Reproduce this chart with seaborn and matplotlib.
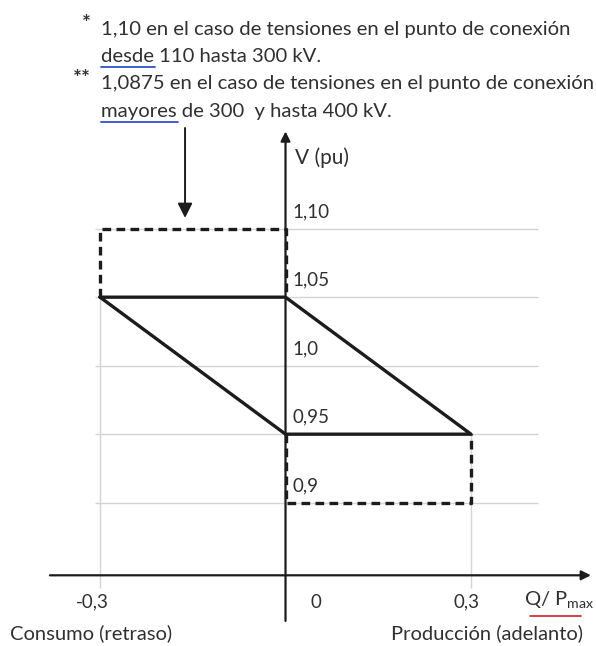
import numpy as np
import pandas as pd
import matplotlib
matplotlib.use("Agg")
import matplotlib.pyplot as plt
import seaborn as sns

sns.set_style("white")
plt.rcParams["font.family"] = ["Lato", "DejaVu Sans"]

# datos
banda_q = [-0.3, 0.0, 0.3, 0.0, -0.3]
banda_v = [1.05, 1.05, 0.95, 0.95, 1.05]
sup_q = [-0.3, -0.3, 0.0, 0.0]
sup_v = [1.05, 1.10, 1.10, 1.05]
inf_q = [0.0, 0.0, 0.3, 0.3]
inf_v = [0.95, 0.90, 0.90, 0.95]
niveles_v = [1.10, 1.05, 1.0, 0.95, 0.90]
etiquetas_v = ["1,10", "1,05", "1,0", "0,95", "0,9"]
ticks_q = [-0.3, 0.0, 0.3]
etiquetas_q = ["-0,3", "0", "0,3"]

notas = [
    ("*", "1,10 en el caso de tensiones en el punto de conexión"),
    ("", "desde 110 hasta 300 kV."),
    ("**", "1,0875 en el caso de tensiones en el punto de conexión"),
    ("", "mayores de 300  y hasta 400 kV."),
]

W, H = 596, 646
fig = plt.figure(figsize=(W / 100, H / 100), dpi=100)
ax = fig.add_axes([0, 0, 1, 1])
ax.set_xlim(-0.4618, 0.5022)
ax.set_ylim(0.7954, 1.2669)
ax.axis("off")

negro = "#1c1c1c"
texto = "#303030"
gris = "#d4d4d4"

# rejilla
ax.hlines(niveles_v, -0.308, 0.408, color=gris, lw=1, zorder=0)
ax.vlines(-0.3, 0.838, 1.05, color=gris, lw=1, zorder=0)
ax.vlines(0.3, 0.838, 0.95, color=gris, lw=1, zorder=0)

# ejes con flechas
ax.annotate("", xy=(0.494, 0.847), xytext=(-0.381, 0.847),
            arrowprops=dict(arrowstyle="-|>", color=negro, lw=1.6,
                            mutation_scale=14, shrinkA=0, shrinkB=0))
ax.annotate("", xy=(0.0, 1.171), xytext=(0.0, 0.8137),
            arrowprops=dict(arrowstyle="-|>", color=negro, lw=1.6,
                            mutation_scale=14, shrinkA=0, shrinkB=0))
ax.annotate("", xy=(-0.1625, 1.1078), xytext=(-0.1625, 1.1735),
            arrowprops=dict(arrowstyle="-|>", color=negro, lw=1.4,
                            mutation_scale=22, shrinkA=0, shrinkB=0))

# banda de operacion
df_banda = pd.DataFrame({"Q": banda_q, "V": banda_v})
sns.lineplot(data=df_banda, x="Q", y="V", sort=False, estimator=None,
             color=negro, lw=2.4, ax=ax, zorder=3)
df_sup = pd.DataFrame({"Q": sup_q, "V": sup_v})
sns.lineplot(data=df_sup, x="Q", y="V", sort=False, estimator=None,
             color=negro, lw=2.4, linestyle=(0, (2.6, 1.6)), ax=ax, zorder=3)
df_inf = pd.DataFrame({"Q": inf_q, "V": inf_v})
sns.lineplot(data=df_inf, x="Q", y="V", sort=False, estimator=None,
             color=negro, lw=2.4, linestyle=(0, (2.6, 1.6)), ax=ax, zorder=3)
ax.set_xlim(-0.4618, 0.5022)
ax.set_ylim(0.7954, 1.2669)

# etiquetas del eje V
ax.text(0.016, 1.152, "V (pu)", fontsize=15, color=texto, va="center")
for v, lab in zip(niveles_v, etiquetas_v):
    ax.text(0.011, v + 0.0125, lab, fontsize=13.5, color=texto, va="center")

# etiquetas del eje Q
desfase = [-0.013, 0.05, -0.008]
for q, lab, d in zip(ticks_q, etiquetas_q, desfase):
    ax.text(q + d, 0.8274, lab, fontsize=13.5, color=texto, ha="center", va="center")
ax.text(0.385, 0.8295, r"Q/ $\mathregular{P_{max}}$", fontsize=14.5, color=texto,
        va="center")
ax.plot([0.396, 0.478], [0.8175, 0.8175], color="#d02020", lw=1.2)
ax.text(-0.446, 0.805, "Consumo (retraso)", fontsize=14.5, color=texto, va="center")
ax.text(0.481, 0.805, "Producción (adelanto)", fontsize=14.5, color=texto,
        va="center", ha="right")

# notas
for i, (marca, linea) in enumerate(notas):
    y = 1 - (29 + 27.5 * i) / H
    if marca:
        fig.text(91 / W, y + 5 / H, marca, fontsize=15, color=texto, ha="right",
                 va="center", fontweight="bold")
    fig.text(101 / W, y, linea, fontsize=14.6, color=texto, va="center")
# subrayados del corrector
fig.lines.append(plt.Line2D([101 / W, 155 / W], [1 - 67 / H, 1 - 67 / H],
                            color="#3050d0", lw=1.3, transform=fig.transFigure))
fig.lines.append(plt.Line2D([101 / W, 178 / W], [1 - 122 / H, 1 - 122 / H],
                            color="#3050d0", lw=1.3, transform=fig.transFigure))

fig.savefig("out.png", dpi=100)
